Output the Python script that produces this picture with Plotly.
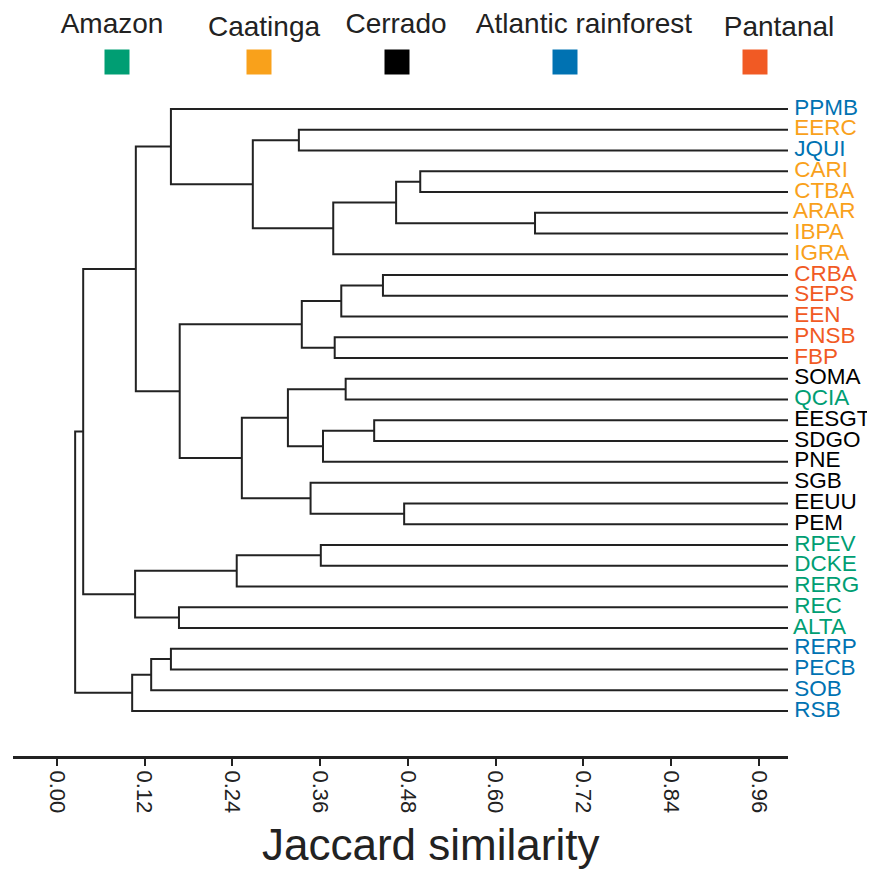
import plotly.graph_objects as go

# ---------------- data ----------------
leaves = ["PPMB", "EERC", "JQUI", "CARI", "CTBA", "ARAR", "IBPA", "IGRA",
          "CRBA", "SEPS", "EEN", "PNSB", "FBP",
          "SOMA", "QCIA", "EESGT", "SDGO", "PNE", "SGB", "EEUU", "PEM",
          "RPEV", "DCKE", "RERG", "REC", "ALTA",
          "RERP", "PECB", "SOB", "RSB"]
leaf_biome = ["Atlantic rainforest", "Caatinga", "Atlantic rainforest", "Caatinga", "Caatinga",
              "Caatinga", "Caatinga", "Caatinga",
              "Pantanal", "Pantanal", "Pantanal", "Pantanal", "Pantanal",
              "Cerrado", "Amazon", "Cerrado", "Cerrado", "Cerrado", "Cerrado", "Cerrado", "Cerrado",
              "Amazon", "Amazon", "Amazon", "Amazon", "Amazon",
              "Atlantic rainforest", "Atlantic rainforest", "Atlantic rainforest", "Atlantic rainforest"]

# merges: node n<i> joins merge_a[i] and merge_b[i] at similarity merge_sim[i]
merge_a = ["CARI", "ARAR", "n0", "n2", "EERC", "n4", "PPMB",
           "CRBA", "n7", "PNSB", "n8",
           "SOMA", "EESGT", "n12", "n11", "EEUU", "SGB", "n14", "n10", "n6",
           "RPEV", "n20", "REC", "n21", "n19",
           "RERP", "n25", "n26", "n24"]
merge_b = ["CTBA", "IBPA", "n1", "IGRA", "JQUI", "n3", "n5",
           "SEPS", "EEN", "FBP", "n9",
           "QCIA", "SDGO", "PNE", "n13", "PEM", "n15", "n16", "n17", "n18",
           "DCKE", "RERG", "ALTA", "n22", "n23",
           "PECB", "SOB", "RSB", "n27"]
merge_sim = [0.497, 0.654, 0.464, 0.378, 0.331, 0.268, 0.156,
             0.446, 0.389, 0.380, 0.335,
             0.395, 0.434, 0.364, 0.316, 0.475, 0.347, 0.253, 0.168, 0.108,
             0.361, 0.246, 0.167, 0.107, 0.036,
             0.156, 0.129, 0.103, 0.025]

biomes = ["Amazon", "Caatinga", "Cerrado", "Atlantic rainforest", "Pantanal"]
biome_colors = ["#009E73", "#F9A11B", "#000000", "#0072B2", "#F15A24"]

tick_vals = [0.00, 0.12, 0.24, 0.36, 0.48, 0.60, 0.72, 0.84, 0.96]
tick_text = ["0.00", "0.12", "0.24", "0.36", "0.48", "0.60", "0.72", "0.84", "0.96"]

# ---------------- layout constants (figure pixels; page body adds 8px offset) ----------------
LEAF_X = 1.0
legend_text_x = [104, 256, 388, 576, 771]
legend_text_y = [18, 21, 18, 18, 21]
legend_box_x = [109, 251, 389, 557, 747]
legend_box_y = [54, 54, 54, 54, 54]

# ---------------- compute dendrogram geometry ----------------
pos = {}
for i, name in enumerate(leaves):
    pos[name] = (LEAF_X, i)

xs, ys = [], []
for i, (a, b, s) in enumerate(zip(merge_a, merge_b, merge_sim)):
    xa, ya = pos[a]
    xb, yb = pos[b]
    xs += [xa, s, s, xb, None]
    ys += [ya, ya, yb, yb, None]
    pos["n%d" % i] = (s, (ya + yb) / 2)

color_of = dict(zip(biomes, biome_colors))
leaf_colors = [color_of[b] for b in leaf_biome]

FONT = "Liberation Sans, Arial"

fig = go.Figure()
fig.add_trace(go.Scatter(x=xs, y=ys, mode="lines",
                         line=dict(color="#222222", width=2),
                         hoverinfo="skip", showlegend=False))
fig.add_trace(go.Scatter(x=[LEAF_X] * len(leaves), y=list(range(len(leaves))),
                         mode="text", text=[" " + l for l in leaves],
                         textposition="middle right",
                         textfont=dict(family=FONT, size=22.5, color=leaf_colors),
                         cliponaxis=False, hoverinfo="skip", showlegend=False))

W, H = 867, 861
ML, MR, MB = 5, 87, 113
plot_h = H - MB
top_px = 82
y_dom_top = (plot_h - top_px) / plot_h

# legend (custom, on a separate pair of hidden axes measured in figure pixels)
fig.add_trace(go.Scatter(x=legend_box_x, y=legend_box_y, mode="markers",
                         marker=dict(symbol="square", size=25, color=biome_colors,
                                     line=dict(width=0)),
                         xaxis="x2", yaxis="y2", hoverinfo="skip", showlegend=False,
                         cliponaxis=False))
fig.add_trace(go.Scatter(x=legend_text_x, y=legend_text_y, mode="text", text=biomes,
                         textposition="middle center",
                         textfont=dict(family=FONT, size=28, color="#222222"),
                         xaxis="x2", yaxis="y2", hoverinfo="skip", showlegend=False,
                         cliponaxis=False))

fig.update_layout(
    width=W, height=H,
    margin=dict(l=ML, r=MR, t=0, b=MB),
    paper_bgcolor="white", plot_bgcolor="white",
    font=dict(family=FONT, color="#222222"),
    xaxis=dict(range=[-0.060, 1.0], tickvals=tick_vals, ticktext=tick_text,
               tickangle=90, ticks="outside", ticklen=7, tickwidth=2, tickcolor="#222222",
               tickfont=dict(size=22, color="#222222"),
               showline=True, linecolor="#222222", linewidth=3,
               showgrid=False, zeroline=False, domain=[0, 1]),
    yaxis=dict(range=[31.17, -0.915], visible=False, showgrid=False, zeroline=False,
               domain=[0, y_dom_top]),
    xaxis2=dict(range=[ML, W - MR], domain=[0, 1], visible=False, anchor="y2",
                fixedrange=True),
    yaxis2=dict(range=[top_px, 0], domain=[y_dom_top, 1], visible=False, anchor="x2",
                fixedrange=True),
    annotations=[dict(text="Jaccard similarity", xref="paper", yref="paper",
                      x=(422 - ML) / (W - ML - MR), y=(plot_h - 837) / plot_h,
                      xanchor="center", yanchor="middle", showarrow=False,
                      font=dict(size=44, color="#222222", family=FONT))],
)

fig.write_html("out.html")
